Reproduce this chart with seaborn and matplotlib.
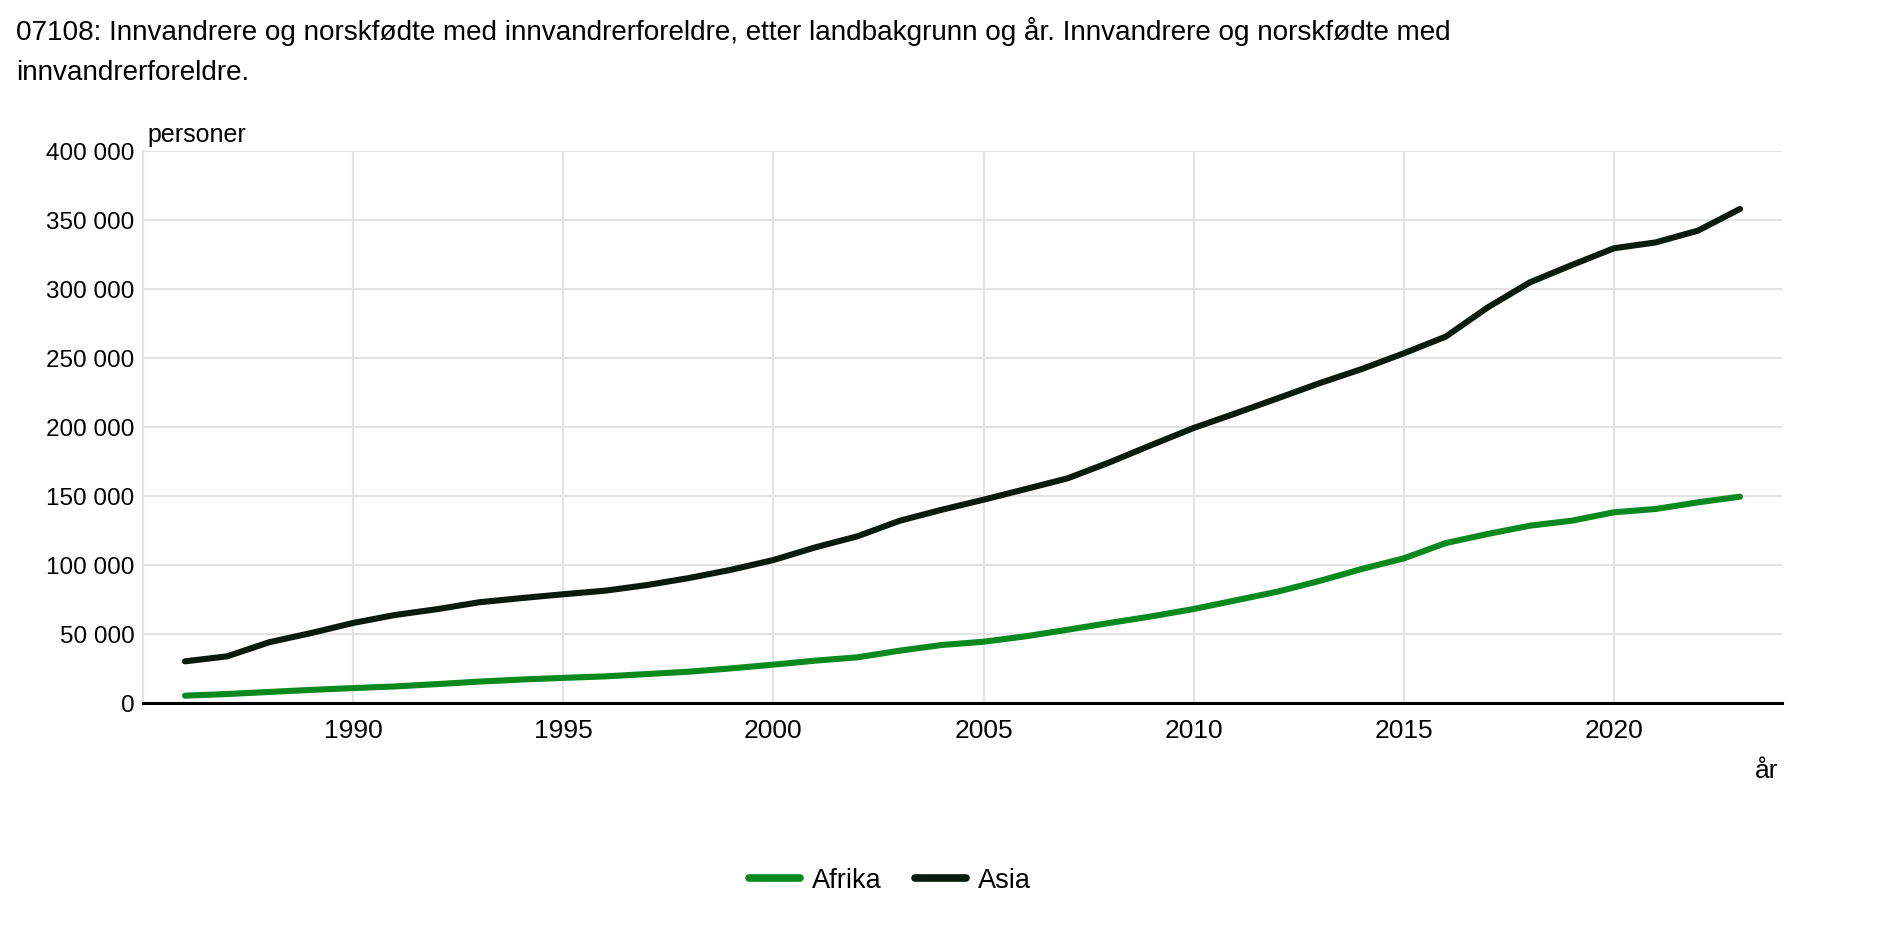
import matplotlib
matplotlib.use("Agg")
import matplotlib.pyplot as plt
import matplotlib.ticker as mticker
from matplotlib.lines import Line2D
import seaborn as sns
import pandas as pd

years = list(range(1986, 2024))
afrika = [5.3, 6.5, 8.0, 9.5, 10.8, 12.0, 13.7, 15.5, 17.0, 18.2,
          19.3, 21.0, 22.7, 25.1, 27.8, 30.7, 33.1, 37.9, 42.0, 44.4,
          48.3, 53.1, 58.0, 62.8, 68.1, 74.4, 80.7, 88.5, 97.1, 104.8,
          115.9, 122.5, 128.5, 132.1, 138.2, 140.6, 145.4, 149.5]
asia = [30.2, 33.8, 44.0, 50.7, 58.0, 63.8, 68.0, 73.0, 76.0, 78.8,
        81.4, 85.5, 90.6, 96.6, 103.6, 112.8, 120.8, 132.0, 140.0, 147.3,
        155.0, 162.8, 174.4, 187.0, 199.3, 209.9, 220.8, 231.8, 242.0, 253.4,
        265.5, 286.7, 304.8, 317.4, 329.5, 333.8, 342.3, 358.0]
series_names = ["Afrika", "Asia"]
colors = {"Afrika": "#0a8a1e", "Asia": "#0a1a0e"}
title = ("07108: Innvandrere og norskfødte med innvandrerforeldre, etter landbakgrunn og år. "
         "Innvandrere og norskfødte med\ninnvandrerforeldre.")
y_ticks = [0, 50000, 100000, 150000, 200000, 250000, 300000, 350000, 400000]
x_ticks = [1990, 1995, 2000, 2005, 2010, 2015, 2020]

df = pd.DataFrame({
    "år": years * 2,
    "personer": [v * 1000 for v in afrika] + [v * 1000 for v in asia],
    "serie": ["Afrika"] * len(years) + ["Asia"] * len(years),
})

sns.set_theme(style="white")
plt.rcParams["font.family"] = ["Liberation Sans", "DejaVu Sans"]
plt.rcParams["text.color"] = "black"
plt.rcParams["xtick.color"] = "black"
plt.rcParams["ytick.color"] = "black"

fig = plt.figure(figsize=(18.89, 9.28), dpi=100)
ax = fig.add_axes([143 / 1889, 1 - 704 / 928, (1782 - 143) / 1889, (704 - 152) / 928])

sns.lineplot(data=df, x="år", y="personer", hue="serie", hue_order=series_names,
             palette=colors, linewidth=4.4, ax=ax, legend=False, zorder=3)

ax.set_xlim(1985, 2024)
ax.set_ylim(0, 400000)
ax.set_xticks(x_ticks)
ax.set_yticks(y_ticks)
ax.yaxis.set_major_formatter(mticker.FuncFormatter(lambda v, p: f"{int(v):,}".replace(",", " ")))
ax.grid(True, color="#e3e3e3", linewidth=1.5)
ax.set_axisbelow(True)
for s in ["top", "right"]:
    ax.spines[s].set_visible(False)
ax.spines["left"].set_color("#e3e3e3")
ax.spines["left"].set_linewidth(1.5)
ax.spines["bottom"].set_color("black")
ax.spines["bottom"].set_linewidth(2.2)
ax.spines["bottom"].set_zorder(4)
ax.tick_params(axis="both", length=0, colors="black")
ax.tick_params(axis="y", labelsize=17.5, pad=6)
ax.tick_params(axis="x", labelsize=19, pad=11)
ax.set_xlabel("")
ax.set_ylabel("")

fig.text(147 / 1889, 1 - 142 / 928, "personer", fontsize=18, ha="left", va="baseline")
fig.text(1767 / 1889, 1 - 778 / 928, "år", fontsize=19, ha="center", va="baseline")
fig.text(16 / 1889, 1 - 17 / 928, title, fontsize=20.1, ha="left", va="top",
         linespacing=1.7)

handles = [Line2D([0], [0], color=colors[n], linewidth=5.5) for n in series_names]
fig.legend(handles, series_names, loc="center", bbox_to_anchor=(890 / 1889, 1 - 881 / 928),
           ncol=2, frameon=False, fontsize=19.5, handlelength=1.9, columnspacing=1.2,
           handletextpad=0.45)

fig.savefig("out.png", dpi=100, facecolor="white")
